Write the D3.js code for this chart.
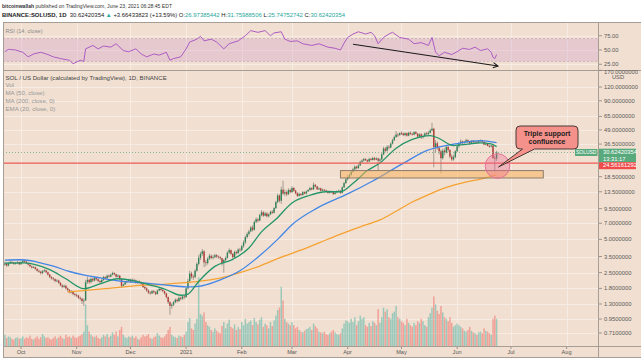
<!DOCTYPE html>
<html><head><meta charset="utf-8">
<script src="https://cdn.jsdelivr.net/npm/d3@7"></script>
<style>html,body{margin:0;padding:0;background:#fff;}svg{display:block;font-family:"Liberation Sans",Arial,sans-serif;}</style>
</head><body><svg id="c" width="641" height="358"></svg>
<script>
// ---------------- DATA ----------------
const startDate = "2020-09-22";
const firstOpen = 2.95;
const closes = [
 3.02,2.90,3.05,3.12,3.08,3.00,3.05,3.10,2.98,
 3.10,3.20,3.15,3.05,2.95,2.85,2.78,2.80,2.70,2.60,2.55,2.48,2.58,2.62,2.52,2.40,2.28,2.22,2.18,2.10,2.12,2.02,1.92,1.86,1.90,1.80,1.74,1.66,1.68,1.60,1.57,
 1.55,1.48,1.45,1.38,1.40,2.05,2.15,2.05,2.20,2.12,2.25,2.18,2.10,2.05,2.15,2.28,2.22,2.35,2.30,2.40,2.48,2.42,2.30,2.35,2.20,1.90,1.95,2.05,2.10,2.15,
 2.08,2.15,2.12,2.02,2.08,2.05,1.98,1.85,1.80,1.72,1.65,1.62,1.70,1.66,1.60,1.72,1.78,1.74,1.70,1.62,1.50,1.35,1.25,1.28,1.35,1.42,1.38,1.48,1.45,1.52,1.50,
 1.80,2.10,2.45,2.30,2.28,2.60,3.00,3.40,3.70,3.90,3.10,3.05,3.35,3.55,3.40,3.45,3.60,3.50,3.45,3.38,3.05,3.25,3.40,3.80,4.00,3.70,3.45,3.85,3.75,4.05,4.00,
 4.35,4.70,5.25,5.60,5.90,6.40,6.10,7.20,7.60,7.40,8.30,8.80,8.20,8.60,8.10,8.40,8.90,8.70,9.60,10.90,12.50,11.20,14.10,13.00,13.40,12.80,14.00,13.40,
 14.60,13.80,13.10,12.40,12.90,12.60,13.40,13.00,13.60,14.00,14.60,14.20,15.60,15.10,14.20,14.50,13.80,14.10,13.90,13.70,13.20,13.60,13.40,12.90,13.30,13.60,13.80,13.20,14.80,16.20,17.50,
 18.40,19.20,20.50,21.60,22.80,22.10,23.40,25.20,25.90,26.70,26.10,25.40,26.80,26.20,27.30,26.40,27.00,25.80,26.50,29.40,33.20,31.80,34.50,33.90,36.80,39.50,42.20,44.50,44.00,45.80,
 45.50,44.00,45.80,43.50,46.20,45.10,44.40,46.80,45.20,42.60,44.70,42.10,43.20,45.60,44.80,46.20,48.50,50.30,34.20,37.10,33.50,31.40,27.20,31.80,30.60,34.40,32.20,28.10,26.50,27.80,31.40,
 34.80,37.20,38.60,37.40,38.20,39.60,38.10,37.20,39.00,37.90,38.40,37.60,38.90,39.30,38.20,36.10,36.80,35.20,34.60,35.40,27.40,26.97,30.62
];
const highs = [
 3.15,3.08,3.12,3.22,3.18,3.12,3.12,3.18,3.14,
 3.18,3.30,3.28,3.18,3.08,2.98,2.90,2.88,2.84,2.74,2.66,2.60,2.64,2.70,2.66,2.56,2.44,2.32,2.28,2.22,2.18,2.16,2.06,1.96,1.95,1.94,1.84,1.78,1.74,1.72,1.64,
 1.62,1.58,1.52,1.48,1.46,2.15,2.30,2.20,2.26,2.24,2.30,2.28,2.22,2.14,2.20,2.34,2.32,2.40,2.40,2.45,2.55,2.52,2.45,2.42,2.38,2.22,2.00,2.10,2.15,2.20,
 2.20,2.22,2.20,2.16,2.12,2.12,2.08,2.00,1.90,1.84,1.76,1.70,1.74,1.74,1.70,1.76,1.84,1.82,1.78,1.72,1.64,1.52,1.38,1.32,1.38,1.46,1.46,1.52,1.52,1.56,1.56,
 1.85,2.20,2.60,2.55,2.40,2.70,3.10,3.60,3.85,4.10,4.00,3.25,3.45,3.70,3.65,3.60,3.70,3.68,3.58,3.52,3.42,3.32,3.50,3.90,4.15,4.05,3.75,3.95,3.95,4.15,4.20,
 4.45,4.90,5.40,5.80,6.10,6.60,6.70,7.40,7.90,7.80,8.50,9.20,9.00,8.90,8.80,8.60,9.10,9.20,9.80,11.20,13.00,12.80,15.00,17.00,14.20,13.80,14.50,14.40,
 15.20,14.90,14.10,13.40,13.30,13.20,13.70,13.60,13.90,14.30,15.00,14.80,16.40,15.90,15.30,14.80,14.70,14.40,14.30,14.10,13.90,13.90,13.80,13.60,13.60,13.90,14.10,14.00,15.10,16.60,18.00,
 19.10,19.80,21.00,22.30,23.40,23.20,24.00,25.80,26.60,27.40,27.20,26.50,27.40,27.30,28.10,27.80,27.80,27.40,27.20,30.20,34.50,34.20,35.60,35.80,37.60,40.80,43.50,48.00,45.80,46.60,
 47.60,46.50,46.60,46.40,47.20,47.60,46.30,47.80,48.00,46.10,45.60,45.80,44.60,46.60,47.10,47.80,50.20,57.00,51.20,39.60,38.40,35.20,32.60,33.20,33.40,35.80,35.10,32.80,29.40,29.20,32.20,
 35.60,38.00,40.20,39.20,39.10,40.80,40.30,38.90,39.60,39.80,39.20,38.90,39.40,40.20,39.80,38.80,37.60,37.30,35.90,36.20,35.80,28.60,31.76
];
const lows = [
 2.88,2.82,2.85,3.00,3.02,2.94,2.95,3.00,2.92,
 2.94,3.05,3.08,3.00,2.90,2.80,2.72,2.74,2.65,2.55,2.48,2.40,2.42,2.52,2.46,2.34,2.22,2.16,2.12,2.04,2.05,1.98,1.88,1.80,1.82,1.76,1.68,1.62,1.62,1.56,1.52,
 1.50,1.44,1.40,1.30,1.25,1.38,1.98,1.98,2.00,2.06,2.08,2.12,2.05,2.00,2.02,2.10,2.18,2.20,2.25,2.26,2.36,2.36,2.25,2.26,2.15,1.82,1.85,1.92,2.00,2.06,
 2.02,2.04,2.06,1.98,1.98,2.00,1.94,1.82,1.76,1.68,1.60,1.58,1.60,1.62,1.56,1.58,1.70,1.70,1.66,1.58,1.46,1.30,1.04,1.18,1.24,1.32,1.34,1.36,1.40,1.42,1.45,
 1.48,1.76,2.05,2.20,2.15,2.22,2.55,2.90,3.25,3.55,2.80,2.85,2.95,3.25,3.30,3.30,3.38,3.40,3.35,3.28,2.90,2.50,3.15,3.35,3.70,3.60,3.35,3.40,3.65,3.70,3.85,
 3.90,4.20,4.55,5.10,5.40,5.80,5.90,6.00,7.00,7.10,7.30,8.10,8.00,8.10,7.90,7.90,8.30,8.50,8.60,9.40,10.60,10.80,10.50,12.60,12.40,12.30,12.60,13.10,
 13.20,13.50,12.80,12.10,12.20,12.30,12.50,12.80,12.80,13.40,13.80,13.90,14.00,14.80,14.00,14.00,13.60,13.70,13.70,13.40,13.00,13.00,13.20,12.60,12.70,13.10,13.40,12.90,13.00,14.60,15.90,
 17.10,17.90,18.90,20.10,21.20,21.50,21.80,23.10,24.60,25.40,25.60,24.80,25.10,25.80,25.90,25.90,26.10,21.00,25.20,26.10,29.00,30.60,31.20,32.60,33.50,36.20,39.00,41.50,42.20,43.40,
 44.10,43.20,43.00,42.80,43.00,44.30,43.60,43.90,44.60,41.80,41.90,40.60,40.90,42.50,43.90,43.60,45.50,47.60,22.50,30.80,32.60,29.40,19.80,26.40,28.90,30.10,31.00,27.10,25.60,25.80,27.20,
 30.80,33.90,36.40,36.50,36.60,37.60,37.40,35.80,36.60,37.10,37.00,36.80,37.20,38.40,37.60,35.70,35.60,34.80,33.90,34.10,26.80,20.50,25.75
];
const volumes = [
 14,10,12,11,9,8,10,11,9,
 10,12,9,11,10,13,9,8,10,12,9,11,15,12,10,11,9,8,10,12,9,11,13,10,9,14,11,12,10,13,11,
 10,12,13,15,18,52,26,18,14,12,11,13,10,9,11,14,12,15,11,13,17,14,18,12,20,24,14,11,10,12,
 11,13,10,12,9,8,11,14,12,13,15,10,9,11,12,16,13,11,10,12,15,20,24,14,12,11,10,13,12,11,14,
 18,30,35,22,20,28,34,86,40,38,42,30,26,24,20,18,22,19,17,16,25,30,22,28,33,24,22,27,20,24,21,
 30,26,34,28,30,32,26,35,30,27,33,36,24,28,26,22,30,25,32,38,45,48,74,57,34,30,28,26,
 30,26,22,24,20,18,17,19,21,22,24,20,28,25,22,18,17,16,18,15,14,16,18,20,17,15,14,16,22,28,32,
 31,29,34,30,36,26,31,38,34,36,26,24,29,25,31,29,26,46,29,36,48,43,46,36,34,41,43,50,36,34,
 31,29,26,34,29,26,24,29,26,31,29,34,31,26,24,36,41,48,62,52,44,40,50,42,36,34,31,36,29,24,26,
 28,26,24,22,19,18,20,24,19,17,16,14,17,18,16,22,19,18,16,14,34,38,34
];
const ema20 = [["2020-09-22",3.05],["2020-10-03",3.06],["2020-10-10",2.92],["2020-10-17",2.66],["2020-10-26",2.2],["2020-11-05",1.79],["2020-11-14",1.98],["2020-11-24",2.2],["2020-12-03",2.11],["2020-12-12",1.93],["2020-12-21",1.75],["2020-12-29",1.56],["2021-01-02",1.6],["2021-01-08",2.08],["2021-01-17",2.85],["2021-01-27",3.3],["2021-02-05",4.18],["2021-02-12",5.85],["2021-02-20",7.6],["2021-03-01",10.7],["2021-03-10",12.4],["2021-03-20",13.5],["2021-03-28",13.5],["2021-04-04",16.1],["2021-04-12",21.0],["2021-04-19",24.6],["2021-04-28",33.5],["2021-05-07",40.2],["2021-05-17",43.6],["2021-05-22",41.0],["2021-05-30",35.4],["2021-06-07",36.4],["2021-06-14",37.4],["2021-06-20",36.7],["2021-06-23",34.6]];
const ma50 = [["2020-09-22",3.25],["2020-10-01",3.27],["2020-10-10",3.12],["2020-10-19",2.86],["2020-10-28",2.56],["2020-11-06",2.36],["2020-11-14",2.24],["2020-11-23",2.12],["2020-12-02",2.05],["2020-12-12",1.99],["2020-12-21",1.93],["2021-01-01",1.86],["2021-01-08",1.88],["2021-01-20",2.15],["2021-01-31",2.6],["2021-02-10",3.45],["2021-02-21",5.0],["2021-03-01",6.8],["2021-03-15",9.6],["2021-04-01",12.9],["2021-04-15",16.9],["2021-05-01",23.9],["2021-05-15",31.8],["2021-06-01",36.9],["2021-06-14",39.3],["2021-06-23",37.6]];
const ma200 = [["2020-10-27",1.67],["2020-11-14",1.77],["2020-12-02",1.89],["2020-12-21",1.97],["2021-01-05",2.06],["2021-01-20",2.23],["2021-01-31",2.5],["2021-02-11",2.87],["2021-02-22",3.4],["2021-03-05",3.95],["2021-03-16",4.65],["2021-03-27",5.5],["2021-04-08",6.5],["2021-04-19",7.5],["2021-04-28",9.0],["2021-05-07",10.9],["2021-05-17",12.9],["2021-05-26",14.8],["2021-06-05",16.4],["2021-06-14",17.6],["2021-06-23",19.2]];
const rsi = [["2020-09-22",47],["2020-09-24",51],["2020-09-28",50],["2020-10-02",46],["2020-10-05",38],["2020-10-08",43],["2020-10-12",46],["2020-10-16",42],["2020-10-19",38],["2020-10-23",35],["2020-10-28",32],["2020-10-30",26],["2020-11-03",32],["2020-11-05",30],["2020-11-06",52],["2020-11-10",58],["2020-11-13",52],["2020-11-16",57],["2020-11-20",55],["2020-11-23",61],["2020-11-27",49],["2020-11-30",47],["2020-12-04",52],["2020-12-07",43],["2020-12-10",38],["2020-12-14",43],["2020-12-17",41],["2020-12-21",46],["2020-12-23",32],["2020-12-25",35],["2020-12-29",38],["2021-01-01",52],["2021-01-03",64],["2021-01-07",69],["2021-01-09",74],["2021-01-11",66],["2021-01-15",69],["2021-01-18",64],["2021-01-22",52],["2021-01-25",61],["2021-01-30",66],["2021-02-03",75],["2021-02-06",84],["2021-02-10",81],["2021-02-14",84],["2021-02-17",75],["2021-02-19",80],["2021-02-23",82],["2021-02-25",69],["2021-02-28",65],["2021-03-04",66],["2021-03-07",61],["2021-03-12",58],["2021-03-16",61],["2021-03-21",55],["2021-03-25",53],["2021-03-28",50],["2021-03-30",62],["2021-04-01",72],["2021-04-04",78],["2021-04-07",82],["2021-04-11",78],["2021-04-14",81],["2021-04-16",75],["2021-04-18",61],["2021-04-21",72],["2021-04-24",78],["2021-04-26",81],["2021-04-30",72],["2021-05-05",69],["2021-05-08",61],["2021-05-12",63],["2021-05-16",58],["2021-05-18",72],["2021-05-20",46],["2021-05-22",40],["2021-05-25",46],["2021-05-29",42],["2021-06-01",47],["2021-06-04",53],["2021-06-08",51],["2021-06-11",55],["2021-06-14",49],["2021-06-18",52],["2021-06-20",46],["2021-06-21",37],["2021-06-22",35],["2021-06-23",42]];
const priceTicks = [170,120,90,65,49,36.5,18.5,13.5,9.5,7,5,3.5,2.5,1.8,1.3,0.95,0.71];
const rsiTicks = [75,50,25];
const monthDates = ["2020-10-01","2020-11-01","2020-12-01","2021-01-01","2021-02-01","2021-03-01","2021-04-01","2021-05-01","2021-06-01","2021-07-01","2021-08-01"];
const monthLabels = ["Oct","Nov","Dec","2021","Feb","Mar","Apr","May","Jun","Jul","Aug"];
const lastPrice = 30.62420354, supportLine = 24.56161292;
const zone = {from:"2021-03-28", to:"2021-07-19", lo:18.0, hi:21.0};
const circleAt = {date:"2021-06-23T12:00", price:23.1};
const rsiArrow = {from:["2021-04-04",60], to:["2021-06-23T18:00",22]};

// ---------------- SETUP ----------------
const svg = d3.select("#c");
const P = d3.utcParse("%Y-%m-%d"), PT = d3.utcParse("%Y-%m-%dT%H:%M");
const pd = s => s.length > 10 ? PT(s) : P(s);
const L = 3, R = 598, RT = 22, RB = 70, MB = 346, AB = 357, W = 641;
const BG = "#f1e0d1", GRID = "#f7ece3", BORDER = "#a69d95";
const x = d3.scaleUtc().domain([P("2020-10-01"), P("2021-08-01")]).range([21, 566.6]);
const y = d3.scaleLog().domain([0.71, 120]).range([333, 87]);
const yR = d3.scaleLinear().domain([0, 100]).range([78.5, 21.5]);
const yV = d3.scaleLinear().domain([0, 100]).range([MB, 266]);
const start = P(startDate);
const candles = closes.map((c, i) => {
  const o = i ? closes[i-1] : firstOpen;
  return {d: d3.utcDay.offset(start, i), o, c, h: Math.max(highs[i], o, c), l: Math.min(lows[i], o, c), v: volumes[i]};
});

svg.append("rect").attr("width", W).attr("height", 358).attr("fill", "#fff");
svg.append("rect").attr("x", L).attr("y", RT).attr("width", W-L).attr("height", AB-RT).attr("fill", BG);

const defs = svg.append("defs");
defs.append("clipPath").attr("id", "cm").append("rect").attr("x", L).attr("y", RB).attr("width", R-L).attr("height", MB-RB);
defs.append("clipPath").attr("id", "cr").append("rect").attr("x", L).attr("y", RT).attr("width", R-L).attr("height", RB-RT);

// grid
const grid = svg.append("g").attr("stroke", GRID).attr("stroke-width", 1);
monthDates.forEach(m => { const xx = Math.round(x(P(m))) + 0.5; grid.append("line").attr("x1", xx).attr("x2", xx).attr("y1", RT).attr("y2", MB); });
priceTicks.forEach(t => { const yy = Math.round(y(t)) + 0.5; if (yy > RB && yy < MB) grid.append("line").attr("x1", L).attr("x2", R).attr("y1", yy).attr("y2", yy); });
rsiTicks.forEach(t => { const yy = Math.round(yR(t)) + 0.5; grid.append("line").attr("x1", L).attr("x2", R).attr("y1", yy).attr("y2", yy); });

// RSI pane
const gr = svg.append("g").attr("clip-path", "url(#cr)");
gr.append("rect").attr("x", L).attr("width", R-L).attr("y", yR(70)).attr("height", yR(30)-yR(70)).attr("fill", "rgba(190,120,200,0.22)");
[70, 30].forEach(v => gr.append("line").attr("x1", L).attr("x2", R).attr("y1", yR(v)).attr("y2", yR(v)).attr("stroke", "#c4a9bd").attr("stroke-dasharray", "2,2").attr("stroke-width", 0.8));
gr.append("path").datum(rsi).attr("fill", "none").attr("stroke", "#ad5cc4").attr("stroke-width", 1)
  .attr("d", d3.line().x(d => x(pd(d[0]))).y(d => yR(d[1])));
{
  const x1 = x(pd(rsiArrow.from[0])), y1 = yR(rsiArrow.from[1]), x2 = x(pd(rsiArrow.to[0])), y2 = yR(rsiArrow.to[1]);
  gr.append("line").attr("x1", x1).attr("y1", y1).attr("x2", x2).attr("y2", y2).attr("stroke", "#1a1a1a").attr("stroke-width", 1.1);
  const a = Math.atan2(y2-y1, x2-x1), hl = 5.5;
  const p1 = [x2 - hl*Math.cos(a-0.5), y2 - hl*Math.sin(a-0.5)], p2 = [x2 - hl*Math.cos(a+0.5), y2 - hl*Math.sin(a+0.5)];
  gr.append("path").attr("d", `M${p1}L${x2},${y2}L${p2}`).attr("fill", "none").attr("stroke", "#1a1a1a").attr("stroke-width", 1.1);
}

// main pane
const gm = svg.append("g").attr("clip-path", "url(#cm)");
gm.append("g").selectAll("rect").data(candles).join("rect")
  .attr("x", d => x(d.d) - 0.75).attr("width", 1.5)
  .attr("y", d => yV(d.v)).attr("height", d => MB - yV(d.v))
  .attr("fill", d => d.c >= d.o ? "rgba(38,166,154,0.42)" : "rgba(239,83,80,0.45)");
const gc = gm.append("g");
gc.selectAll("line").data(candles).join("line")
  .attr("x1", d => x(d.d)).attr("x2", d => x(d.d)).attr("y1", d => y(d.h)).attr("y2", d => y(d.l))
  .attr("stroke", "#a39b93").attr("stroke-width", 1);
gc.selectAll("rect").data(candles).join("rect")
  .attr("x", d => x(d.d) - 0.7).attr("width", 1.4)
  .attr("y", d => y(Math.max(d.o, d.c))).attr("height", d => Math.max(0.8, Math.abs(y(d.o) - y(d.c))))
  .attr("fill", d => d.c >= d.o ? "#2e8458" : "#b23a33");
const ln = d3.line().curve(d3.curveMonotoneX).x(d => x(pd(d[0]))).y(d => y(d[1]));
gm.append("path").datum(ma200).attr("d", ln).attr("fill", "none").attr("stroke", "#f6a232").attr("stroke-width", 1.3);
gm.append("path").datum(ma50).attr("d", ln).attr("fill", "none").attr("stroke", "#4386e6").attr("stroke-width", 1.3);
gm.append("path").datum(ema20).attr("d", ln).attr("fill", "none").attr("stroke", "#24956a").attr("stroke-width", 1.3);
// price line & drawings
gm.append("line").attr("x1", L).attr("x2", R).attr("y1", y(lastPrice)).attr("y2", y(lastPrice)).attr("stroke", "#6ea889").attr("stroke-width", 0.8).attr("stroke-dasharray", "1,2");
gm.append("line").attr("x1", L).attr("x2", R).attr("y1", y(supportLine)).attr("y2", y(supportLine)).attr("stroke", "#ee5a55").attr("stroke-width", 1.3);
gm.append("rect").attr("x", x(P(zone.from))).attr("width", x(P(zone.to)) - x(P(zone.from)))
  .attr("y", y(zone.hi)).attr("height", y(zone.lo) - y(zone.hi))
  .attr("fill", "rgba(250,178,92,0.55)").attr("stroke", "#8d7a68").attr("stroke-width", 1);
const cx = x(pd(circleAt.date)), cy = y(circleAt.price);
gm.append("circle").attr("cx", cx).attr("cy", cy).attr("r", 12.3).attr("fill", "rgba(238,100,145,0.35)").attr("stroke", "#e4739a").attr("stroke-width", 1);
{
  const bx0 = cx + 18.5, bx1 = cx + 80.5, by0 = cy - 40, by1 = cy - 17, r = 4;
  const t1 = cx + 25, t2 = cx + 37;
  const d = `M${bx0+r},${by0}H${bx1-r}Q${bx1},${by0} ${bx1},${by0+r}V${by1-r}Q${bx1},${by1} ${bx1-r},${by1}H${t2}L${cx+1},${cy+1}L${t1},${by1}H${bx0+r}Q${bx0},${by1} ${bx0},${by1-r}V${by0+r}Q${bx0},${by0} ${bx0+r},${by0}Z`;
  gm.append("path").attr("d", d).attr("fill", "#f3918a").attr("stroke", "#4d3835").attr("stroke-width", 1);
  const tc = (bx0 + bx1) / 2;
  gm.append("text").attr("x", tc).attr("y", by0 + 10).attr("text-anchor", "middle").attr("font-size", 7).attr("font-weight", "bold").attr("fill", "#1c1c1c").text("Triple support");
  gm.append("text").attr("x", tc).attr("y", by0 + 17.8).attr("text-anchor", "middle").attr("font-size", 7).attr("font-weight", "bold").attr("fill", "#1c1c1c").text("confluence");
}

// borders
const bd = svg.append("g").attr("stroke", BORDER).attr("stroke-width", 1);
[[L+0.5, RT, L+0.5, AB], [L, RT+0.5, W, RT+0.5], [L, RB+0.5, W, RB+0.5], [L, MB+0.5, W, MB+0.5], [L, AB+0.5, W, AB+0.5], [R+0.5, RT, R+0.5, AB]]
  .forEach(a => bd.append("line").attr("x1", a[0]).attr("y1", a[1]).attr("x2", a[2]).attr("y2", a[3]));

// right axis
const ax = svg.append("g").attr("font-size", 5.8).attr("fill", "#5a5a5a");
priceTicks.forEach(t => {
  const yy = y(t);
  ax.append("line").attr("x1", R+1).attr("x2", R+4).attr("y1", yy).attr("y2", yy).attr("stroke", "#8a827b").attr("stroke-width", 0.8);
  ax.append("text").attr("x", R+6).attr("y", yy).attr("dy", t === 170 ? "0.6em" : "0.35em").text(t.toFixed(7));
});
rsiTicks.forEach(t => {
  const yy = yR(t);
  ax.append("line").attr("x1", R+1).attr("x2", R+4).attr("y1", yy).attr("y2", yy).attr("stroke", "#8a827b").attr("stroke-width", 0.8);
  ax.append("text").attr("x", R+6).attr("y", yy).attr("dy", "0.35em").text(t.toFixed(2));
});
ax.append("text").attr("x", 618).attr("y", 79).attr("text-anchor", "middle").text("USD");
// price tags
{
  const yp = y(lastPrice);
  svg.append("rect").attr("x", 575).attr("y", yp-3.5).attr("width", 22.5).attr("height", 7).attr("fill", "#58a97c");
  svg.append("text").attr("x", 586.2).attr("y", yp+2).attr("text-anchor", "middle").attr("font-size", 5).attr("fill", "#fff").text("SOLUSD");
  svg.append("rect").attr("x", R+1).attr("y", yp-3.8).attr("width", 37).attr("height", 13.5).attr("fill", "#58a97c");
  svg.append("text").attr("x", R+5).attr("y", yp+2).attr("font-size", 5.8).attr("fill", "#fff").text(lastPrice.toFixed(8));
  svg.append("text").attr("x", R+5).attr("y", yp+8.2).attr("font-size", 5.8).attr("fill", "#fff").text("13:31:17");
  const ys = yp + 9.7;
  svg.append("rect").attr("x", R+1).attr("y", ys).attr("width", 37).attr("height", 7).attr("fill", "#ef4b4b");
  svg.append("text").attr("x", R+5).attr("y", ys+5.3).attr("font-size", 5.8).attr("fill", "#fff").text(supportLine.toFixed(8));
}
// time axis
const tx = svg.append("g").attr("font-size", 5.6).attr("fill", "#555");
monthDates.forEach((m, i) => {
  const xx = x(P(m));
  tx.append("line").attr("x1", xx).attr("x2", xx).attr("y1", MB+1).attr("y2", MB+3).attr("stroke", "#8a827b").attr("stroke-width", 0.8);
  tx.append("text").attr("x", xx).attr("y", 354).attr("text-anchor", "middle").text(monthLabels[i]);
});

// legends
const lg = svg.append("g").attr("font-size", 6.1);
lg.append("text").attr("x", 5.5).attr("y", 33).attr("font-size", 5.6).attr("fill", "#8a8a8a").text("RSI (14, close)");
lg.append("text").attr("x", 5.5).attr("y", 79.5).attr("fill", "#444").text("SOL / US Dollar (calculated by TradingView), 1D, BINANCE");
[["Vol", 87.2], ["MA (50, close)", 95.2], ["MA (200, close, 0)", 103.2], ["EMA (20, close, 0)", 110.8]]
  .forEach(a => lg.append("text").attr("x", 5.5).attr("y", a[1]).attr("fill", "#979797").text(a[0]));

// header
const h1 = svg.append("text").attr("x", 2).attr("y", 8).attr("font-size", 5.3).attr("fill", "#333")
  .attr("textLength", 170).attr("lengthAdjust", "spacingAndGlyphs").style("white-space", "pre");
h1.append("tspan").attr("font-weight", "bold").text("bitcoinwallah");
h1.append("tspan").text(" published on TradingView.com, June 23, 2021 06:28:45 EDT");
const h2 = svg.append("text").attr("x", 2).attr("y", 16.5).attr("font-size", 5.9).attr("fill", "#222")
  .attr("textLength", 343).attr("lengthAdjust", "spacingAndGlyphs").style("white-space", "pre");
const G = "#26a69a";
[["BINANCE:SOLUSD, 1D", "#222", "bold"], ["  30.62420354 ", "#222"], ["\u25B2", G], [" +3.66433823 (+13.59%) ", "#222"],
 ["O:", "#222"], ["26.97385442 ", G], ["H:", "#222"], ["31.75988506 ", G], ["L:", "#222"], ["25.74752742 ", G], ["C:", "#222"], ["30.62420354", G]]
 .forEach(a => { const t = h2.append("tspan").attr("fill", a[1]).text(a[0]); if (a[2]) t.attr("font-weight", a[2]); });
</script></body></html>
